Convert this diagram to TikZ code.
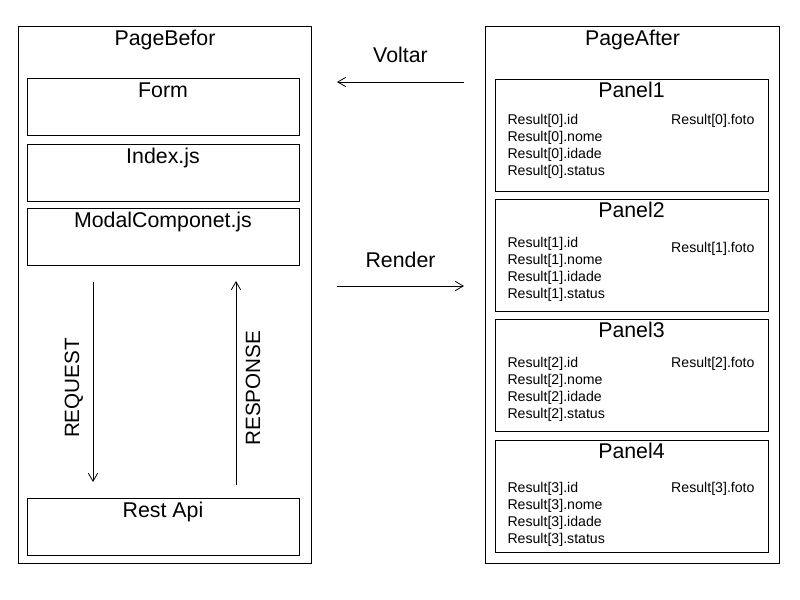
\documentclass[tikz,border=0pt]{standalone}
\usepackage{fontspec}
\setmainfont{Liberation Sans}
\usetikzlibrary{arrows.meta, positioning}

\begin{document}
\begin{tikzpicture}[x=0.75pt, y=-0.75pt, line width=0.75pt]
        \tikzstyle{page} = [rectangle, draw=black, minimum width=220pt, minimum height=402.75pt, inner sep=0pt]
        \tikzstyle{box} = [rectangle, draw=black, minimum width=204pt, minimum height=42.75pt, inner sep=0pt]
        \tikzstyle{panel} = [rectangle, draw=black, minimum width=204.75pt, minimum height=84pt, inner sep=0pt]
        \tikzstyle{title} = [font=\fontsize{16}{19}\selectfont, anchor=base, inner sep=0pt, yshift=-15pt]
        \tikzstyle{fields} = [font=\fontsize{10.6}{12.75}\selectfont, align=left, inner sep=0pt]
        \tikzstyle{vlabel} = [font=\fontsize{15.5}{18}\selectfont, rotate=90, anchor=base, inner sep=0pt]
        \tikzstyle{hlabel} = [font=\fontsize{16}{19}\selectfont, anchor=base, inner sep=0pt]
        \tikzstyle{arrow} = [-{Straight Barb[length=6pt, width=7pt, line width=0.6pt]}, line width=0.75pt]

        \useasboundingbox (0,0) rectangle (800,600);

        % PageBefor
        \node[page, label={[title]north:PageBefor}] (pb) at (165,294.5) {};
        \node[box, label={[title]north:Form}] (form) at (163,106.5) {};
        \node[box, label={[title]north:Index.js}] (index) at (163,172.5) {};
        \node[box, label={[title]north:ModalComponet.js}] (modal) at (163,236.5) {};
        \node[box, label={[title]north:Rest Api}] (rest) at (163,526.5) {};

        % PageAfter
        \node[page, label={[title]north:PageAfter}] (pa) at (632.5,294.5) {};
        \node[panel, label={[title, yshift=1pt]north:Panel1}] (p1) at (631.5,135) {};
        \node[panel, label={[title, yshift=1pt]north:Panel2}] (p2) at (631.5,255) {};
        \node[panel, label={[title, yshift=1pt]north:Panel3}] (p3) at (631.5,375) {};
        \node[panel, label={[title, yshift=1pt]north:Panel4}] (p4) at (631.5,496) {};

        \node[fields, anchor=base west] (f1) at (507,175) {Result[0].id\\Result[0].nome\\Result[0].idade\\Result[0].status};
        \node[fields, anchor=base east] (foto1) at (755,124) {Result[0].foto};
        \node[fields, anchor=base west] (f2) at (507,298) {Result[1].id\\Result[1].nome\\Result[1].idade\\Result[1].status};
        \node[fields, anchor=base east] (foto2) at (755,252) {Result[1].foto};
        \node[fields, anchor=base west] (f3) at (507,418) {Result[2].id\\Result[2].nome\\Result[2].idade\\Result[2].status};
        \node[fields, anchor=base east] (foto3) at (755,367) {Result[2].foto};
        \node[fields, anchor=base west] (f4) at (507,543) {Result[3].id\\Result[3].nome\\Result[3].idade\\Result[3].status};
        \node[fields, anchor=base east] (foto4) at (755,492) {Result[3].foto};

        % Voltar / Render
        \coordinate (vstart) at (464,82);
        \coordinate (vend) at (337,82);
        \coordinate (rstart) at (337,286);
        \coordinate (rend) at (464,286);
        \draw[arrow] (vstart) -- node[hlabel, yshift=15pt] {Voltar} (vend);
        \draw[arrow] (rstart) -- node[hlabel, yshift=14.25pt] {Render} (rend);

        % Request / Response
        \coordinate (qstart) at (93,282);
        \coordinate (qend) at (93,482);
        \coordinate (sstart) at (236,485);
        \coordinate (send) at (236,281);
        \draw[arrow] (qstart) -- node[vlabel, pos=0.53, yshift=10.5pt] {REQUEST} (qend);
        \draw[arrow] (sstart) -- node[vlabel, pos=0.475, yshift=-18pt] {RESPONSE} (send);
    \end{tikzpicture}
\end{document}
